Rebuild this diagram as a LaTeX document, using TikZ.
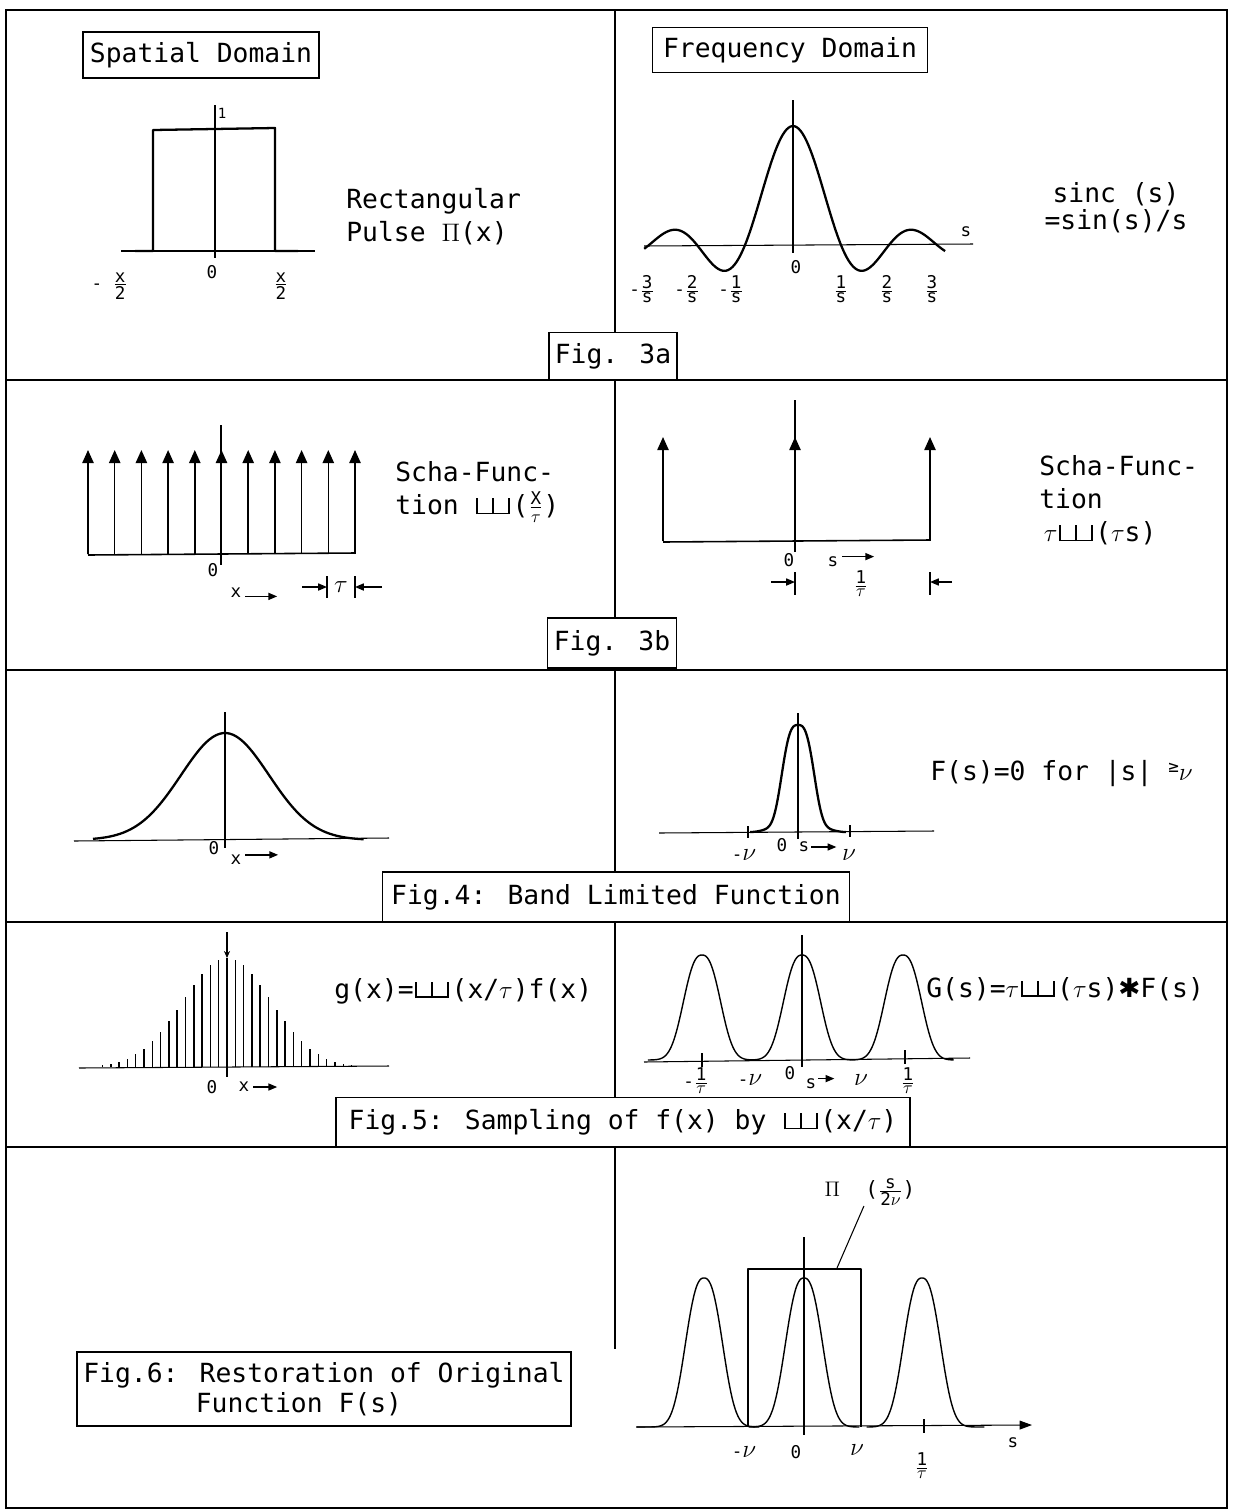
\documentclass[tikz,border=0pt]{standalone}
\usepackage{amsmath}
\usepackage{fontspec}
\setmainfont{DejaVu Sans Mono}
\newfontfamily\dingfont{DejaVu Sans}
\usepackage{graphicx}
\usepackage{tikz}
\usetikzlibrary{arrows.meta}

\newcommand{\fr}[2]{\ensuremath{\genfrac{}{}{0.5pt}{}{\hbox{\fontsize{10}{10}\selectfont #1}}{\hbox{\fontsize{10}{10}\selectfont #2}}}}
\newcommand{\sha}{\mbox{\kern1pt\rule{0.9pt}{9pt}\kern8.2pt\rule{0.9pt}{9pt}\kern8.2pt\rule{0.9pt}{9pt}\kern-19.1pt\rule{19.1pt}{0.9pt}\kern1.5pt}}
\newcommand{\nuv}{{\fontsize{15}{15}\selectfont$\nu$}}

\begin{document}
\begin{tikzpicture}[
        x=0.02cm, y=-0.02cm,
        frame/.style={draw, line width=1.6pt},
        divider/.style={draw, line width=1pt},
        caption/.style={rectangle, draw, line width=1pt, fill=white, inner sep=0pt, minimum height=0.94cm, font=\fontsize{15}{17}\selectfont},
        desc/.style={inner sep=0pt, font=\fontsize{15}{18.7}\selectfont},
        lab/.style={inner sep=0pt, font=\fontsize{10}{11}\selectfont},
        axis/.style={draw, line width=0.6pt},
        tickmark/.style={draw, line width=0.7pt},
        curve/.style={draw, line width=1.3pt, line join=round},
        lightcurve/.style={draw, line width=0.8pt, line join=round},
        spike/.style={draw, line width=0.9pt, -{Triangle[width=6.5pt,length=7.5pt]}},
        stem/.style={draw, line width=0.8pt},
        pointer/.style={draw, line width=0.8pt, -{Triangle[width=4pt,length=5pt]}}
    ]

    \useasboundingbox (0,0) rectangle (1232,1509);

    % --- 1. FRAME ---
    \draw[frame] (6,10) rectangle (1227,1508);
    \draw[divider] (615,10) -- (615,1349);
    \foreach \yy in {380,670,922,1147}
        \draw[divider] (6,\yy) -- (1227,\yy);

    % --- 2. FIG. 3a ---
    \node[caption, minimum width=4.72cm, minimum height=0.92cm] (spatial) at (201,55) {Spatial Domain};
    \node[caption, minimum width=5.5cm, minimum height=0.9cm] (frequency) at (790,50) {Frequency Domain};

    % rectangular pulse
    \draw[axis] (121,251) -- (315,251);
    \draw[axis] (215,105) -- (215,258);
    \draw[curve] (135,251) -- (153,251) -- (153,130) -- (275,128) -- (275,251) -- (298,251);
    \node[lab, font=\fontsize{8}{8}\selectfont] (pone) at (222,113) {1};
    \node[lab] (pzero) at (212,272) {0};
    \node[lab, anchor=east] (pleft) at (128,286) {-\ \fr{x}{2}};
    \node[lab] (pright) at (281,286) {\fr{x}{2}};
    \node[desc, align=left, anchor=west] (pulse) at (346,217) {Rectangular\\Pulse $\Pi$(x)};

    % sinc
    \draw[axis] (644,246) -- (973,244);
    \draw[axis] (793,100) -- (793,253);
    \draw[curve] plot[domain=-3.1:3.17, samples=151, smooth] ({793+48*\x},{245-119*sin(180*\x)/(pi*\x)});
    \node[lab] (szero) at (796,267) {0};
    \node[lab] (saxis) at (966,232) {s};
    \foreach \n/\xx in {3/655,2/700,1/744}
        \node[lab, anchor=east] (sm\n) at (\xx,289) {-\fr{\n}{s}};
    \foreach \n/\xx in {1/841,2/887,3/932}
        \node[lab] (sp\n) at (\xx,289) {\fr{\n}{s}};
    \node[desc, align=center, font=\fontsize{15}{15.5}\selectfont] (sinc) at (1116,208) {sinc (s)\\=sin(s)/s};

    \node[caption, minimum width=2.56cm] (fig3a) at (613,356) {Fig. 3a};

    % --- 3. FIG. 3b ---
    \draw[axis, line width=0.9pt] (88,555) -- (355,553);
    \draw[axis] (221,425) -- (221,565);
    \foreach \k in {0,...,10}
        \draw[spike] ({88+26.7*\k},554) -- ({88+26.7*\k},450);
    \node[lab] (czero) at (213,570) {0};
    \node[lab] (cx) at (236,593) {x};
    \draw[pointer] ([xshift=2pt,yshift=1pt]cx.south east) -- +(32,0);
    \node[desc] (ctau) at (341,587) {$\tau$};
    \draw[tickmark] (327,576) -- (327,598);
    \draw[tickmark] (355,576) -- (355,598);
    \draw[pointer] (302,587) -- (327,587);
    \draw[pointer] (382,587) -- (355,587);
    \node[desc, align=left, anchor=west] (scha) at (395,492) {Scha-Func-\\tion \sha(\fr{X}{$\tau$})};

    \draw[axis, line width=0.9pt] (663,542) -- (930,540);
    \draw[axis] (795,400) -- (795,552);
    \foreach \xx in {663,795,930}
        \draw[spike] (\xx,541) -- (\xx,437);
    \node[lab] (fzero) at (789,560) {0};
    \node[lab] (fs) at (833,562) {s};
    \draw[pointer] ([xshift=2pt]fs.north east) -- +(32,0);
    \node[lab] (fperiod) at (861,584) {\fr{1}{$\tau$}};
    \draw[tickmark] (795,572) -- (795,595);
    \draw[tickmark] (930,572) -- (930,595);
    \draw[pointer] (771,582) -- (795,582);
    \draw[pointer] (952,582) -- (930,582);
    \node[desc, align=left, anchor=west] (scha2) at (1039,500) {Scha-Func-\\tion\\\,$\tau$\sha($\tau$s)};

    \node[caption, minimum width=2.58cm, minimum height=1.0cm] (fig3b) at (612,643) {Fig. 3b};

    % --- 4. FIG. 4 ---
    \draw[axis] (74,841) -- (389,838);
    \draw[axis] (225,712) -- (225,848);
    \draw[curve] plot[domain=-3.0:3.15, samples=80, smooth] ({225+44*\x},{840-107*exp(-\x*\x/2)});
    \node[lab] (azero) at (214,848) {0};
    \node[lab] (ax) at (236,860) {x};
    \draw[pointer] ([xshift=2pt]ax.north east) -- +(33,0);

    \draw[axis] (659,833) -- (934,831);
    \draw[axis] (798,713) -- (798,839);
    \draw[curve] plot[domain=-2.9:2.9, samples=101, smooth] ({798+16.5*\x},{832-107*(0.92*exp(-0.693*abs(\x)*\x*\x)+0.08*(1-\x*\x/8.41)*(1-\x*\x/8.41))});
    \draw[tickmark] (748,826) -- (748,838);
    \draw[tickmark] (850,825) -- (850,837);
    \node[lab] (bneg) at (744,855) {-\nuv};
    \node[lab] (bzero) at (782,845) {0};
    \node[lab] (bs) at (804,847) {s};
    \draw[pointer] ([xshift=1pt]bs.east) -- +(25,0);
    \node[lab] (bpos) at (849,855) {\nuv};
    \node[desc, anchor=base west] (band) at (930,780) {F(s)=0 for |s| \raisebox{4pt}{\fontsize{10}{10}\selectfont ≥}$\nu$};

    \node[caption, minimum width=9.34cm, minimum height=1.0cm] (fig4) at (616,897) {Fig.4: Band Limited Function};

    % --- 5. FIG. 5 ---
    \draw[axis] (79,1068) -- (389,1066);
    \foreach \k in {-15,...,15}
        \draw[stem] ({227+8.3*\k},1067) -- ({227+8.3*\k},{1067-109*exp(-0.5*(8.3*\k/44)*(8.3*\k/44))});
    \draw[axis] (227,1067) -- (227,1077);
    \draw[axis, -{Stealth[length=4pt,width=3.5pt]}] (227,932) -- (227,958);
    \node[lab] (czero5) at (212,1087) {0};
    \node[lab] (cx5) at (244,1087) {x};
    \draw[pointer] ([xshift=2pt]cx5.east) -- +(24,0);
    \node[desc, anchor=base west] (sampled) at (334,998) {g(x)=\sha(x/$\tau$)f(x)};

    \draw[axis] (644,1062) -- (970,1058);
    \draw[axis] (802,935) -- (802,1067);
    \foreach \c/\lo/\hi in {702/-2.35/2.2, 802/-2.2/2.2, 903/-2.2/2.2}
        \draw[lightcurve] plot[domain=\lo:\hi, samples=61, smooth] ({\c+23*\x},{1060-105*exp(-\x*\x*sqrt(abs(\x)))});
    \draw[tickmark] (702,1053) -- (702,1067);
    \draw[tickmark] (905,1050) -- (905,1064);
    \node[lab, anchor=east] (gneg) at (709,1081) {-\fr{1}{$\tau$}};
    \node[lab] (gnegnu) at (750,1080) {-\nuv};
    \node[lab] (gzero) at (790,1073) {0};
    \node[lab] (gs) at (811,1084) {s};
    \draw[pointer] ([xshift=1pt]gs.north east) -- +(16,0);
    \node[lab] (gposnu) at (861,1080) {\nuv};
    \node[lab] (gpos) at (908,1081) {\fr{1}{$\tau$}};
    \node[desc, anchor=base west] (conv) at (926,997) {G(s)=$\tau$\sha($\tau$s){\dingfont ✱}F(s)};

    \node[caption, minimum width=11.48cm, minimum height=0.98cm] (fig5) at (623,1122) {Fig.5: Sampling of f(x) by \sha(x/$\tau$)};

    % --- 6. FIG. 6 ---
    \draw[axis, -{Triangle[width=5pt,length=7pt]}] (636,1427) -- (1032,1425);
    \draw[axis] (804,1237) -- (804,1435);
    \foreach \c/\lo/\hi in {704/-2.9/2.4, 804/-2.4/2.4, 922/-2.4/2.7}
        \draw[lightcurve] plot[domain=\lo:\hi, samples=81, smooth] ({\c+23.1*\x},{1427-149*exp(-\x*\x*sqrt(abs(\x)))});
    \draw[curve, line width=1.1pt] (748,1427) -- (748,1269) -- (861,1269) -- (861,1427);
    \draw[tickmark] (924,1419) -- (924,1433);
    \node[lab, font=\fontsize{12}{12}\selectfont] (window) at (870,1192) {$\Pi$\ \ (\fr{s}{2$\nu$})};
    \coordinate (wtop) at (837,1268);
    \draw[axis] (window) -- (wtop);
    \node[lab] (wneg) at (744,1452) {-\nuv};
    \node[lab] (wzero) at (796,1452) {0};
    \node[lab] (wpos) at (857,1450) {\nuv};
    \node[lab] (wper) at (922,1466) {\fr{1}{$\tau$}};
    \node[lab] (ws) at (1013,1443) {s};

    \node[caption, align=left, minimum width=9.88cm, minimum height=1.48cm] (fig6) at (324,1389) {Fig.6: Restoration of Original\\\hspace*{64pt}Function F(s)};

\end{tikzpicture}
\end{document}
